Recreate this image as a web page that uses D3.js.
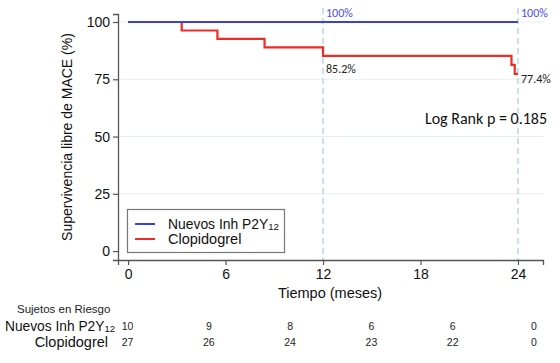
<!DOCTYPE html>
<html lang="es">
<head>
<meta charset="UTF-8" />
<title>Kaplan-Meier MACE</title>
<style>
  body { margin: 0; background: #fff; }
  svg { display: block; }
</style>
</head>
<body>
<div class="chart"></div>
<script src="https://d3js.org/d3.v7.min.js"></script>
<script>
// datos del gráfico
const xTicks = [0, 6, 12, 18, 24];
const yTicks = [0, 25, 50, 75, 100];
const seriesNames = ['Nuevos Inh P2Y', 'Clopidogrel'];
// curvas escalonadas: [tiempo, supervivencia]
const nuevosSteps = [[0, 100], [24, 100]];
const clopiSteps = [[0, 100], [3.3, 96.3], [5.5, 92.6], [8.4, 88.9], [12, 85.2], [23.6, 81.3], [23.8, 77.4], [24, 77.4]];
const riskNuevos = [10, 9, 8, 6, 6, 0];
const riskClopi = [27, 26, 24, 23, 22, 0];
const riskTimes = [0, 1, 2, 3, 4, 5];
const markTimes = [12, 24];
const nuevosLabels = ['100%', '100%'];
const clopiLabels = ['85.2%', '77.4%'];
const clopiLabelValues = [85.2, 77.4];
const pText = 'Log Rank p = 0.185';

const W = 560, H = 363;
const svg = d3.select('.chart').append('svg')
  .attr('width', W).attr('height', H);

const x = d3.scaleLinear().domain([-0.62, 25.54]).range([118, 543]);
const y = d3.scaleLinear().domain([-3.9, 103.5]).range([260, 14]);

// líneas de cuadrícula
svg.append('g').selectAll('line')
  .data(yTicks.filter(d => d > 0))
  .join('line')
  .attr('x1', 119).attr('x2', 543)
  .attr('y1', d => y(d)).attr('y2', d => y(d))
  .attr('stroke', '#e6edf2').attr('stroke-width', 1);

// líneas discontinuas en 12 y 24
svg.append('g').selectAll('line')
  .data(markTimes)
  .join('line')
  .attr('x1', d => x(d)).attr('x2', d => x(d))
  .attr('y1', 8).attr('y2', 260)
  .attr('stroke', '#a9d2e3').attr('stroke-width', 1.3)
  .attr('stroke-dasharray', '6,4');

// ejes
const font = 'Liberation Sans, Arial, sans-serif';
const yAxis = svg.append('g')
  .attr('transform', 'translate(118,0)')
  .call(d3.axisLeft(y).tickValues(yTicks).tickSize(5).tickPadding(3));
const xAxis = svg.append('g')
  .attr('transform', 'translate(0,260)')
  .call(d3.axisBottom(x).tickValues(xTicks).tickSize(5).tickPadding(4));
[yAxis, xAxis].forEach(g => {
  g.select('.domain').attr('stroke', '#555').attr('stroke-width', 1.3);
  g.selectAll('.tick line').attr('stroke', '#555').attr('stroke-width', 1.2);
  g.selectAll('.tick text').attr('fill', '#111')
    .style('font-family', font).style('font-size', '14px');
});

// curvas
const line = d3.line().x(d => x(d[0])).y(d => y(d[1])).curve(d3.curveStepAfter);
svg.append('path').datum(clopiSteps)
  .attr('d', line).attr('fill', 'none')
  .attr('stroke', '#ee2b25').attr('stroke-width', 2.2);
svg.append('path').datum(nuevosSteps)
  .attr('d', line).attr('fill', 'none')
  .attr('stroke', '#3b3fe0').attr('stroke-width', 2.2);

// etiquetas de porcentaje
const calibri = 'Carlito, "Open Sans", sans-serif';
svg.append('g').selectAll('text')
  .data(markTimes)
  .join('text')
  .attr('x', d => x(d) + 3).attr('y', 17)
  .attr('fill', '#4d4de6')
  .style('font-family', calibri).style('font-size', '12px')
  .text((d, i) => nuevosLabels[i]);
svg.append('g').selectAll('text')
  .data(markTimes)
  .join('text')
  .attr('x', d => x(d) + 3)
  .attr('y', (d, i) => y(clopiLabelValues[i]) + (i === 0 ? 17 : 9))
  .attr('fill', '#222')
  .style('font-family', calibri).style('font-size', '12px')
  .text((d, i) => clopiLabels[i]);

svg.append('text')
  .attr('x', 547).attr('y', 124)
  .attr('text-anchor', 'end')
  .attr('fill', '#111')
  .style('font-family', calibri).style('font-size', '16px')
  .text(pText);

// títulos de ejes
svg.append('text')
  .attr('transform', `translate(72,${(14 + 260) / 2}) rotate(-90)`)
  .attr('text-anchor', 'middle')
  .attr('fill', '#111')
  .style('font-family', font).style('font-size', '14px')
  .text('Supervivencia libre de MACE (%)');
svg.append('text')
  .attr('x', 330).attr('y', 298)
  .attr('text-anchor', 'middle')
  .attr('fill', '#111')
  .style('font-family', font).style('font-size', '14.5px')
  .text('Tiempo (meses)');

// texto con subíndice, ajustado al ancho
function subLabel(parent, x0, yb, targetW) {
  const t = parent.append('text')
    .attr('x', x0).attr('y', yb)
    .attr('fill', '#111')
    .style('font-family', font).style('font-size', '14.5px')
    .text(seriesNames[0]);
  t.append('tspan').attr('dy', 1).style('font-size', '10px').text('12');
  const w = t.node().getComputedTextLength();
  if (w > 0) {
    const s = targetW / w;
    t.style('font-size', (14.5 * s) + 'px');
    t.select('tspan').style('font-size', (10 * s) + 'px');
  }
  return t;
}

// leyenda
const leg = svg.append('g');
leg.append('rect')
  .attr('x', 127.5).attr('y', 209.5).attr('width', 157).attr('height', 43)
  .attr('fill', '#fff').attr('stroke', '#777').attr('stroke-width', 1.2);
const legColors = ['#3b3fe0', '#ee2b25'];
seriesNames.forEach((name, i) => {
  const ly = 224 + i * 15;
  leg.append('line')
    .attr('x1', 135).attr('x2', 155).attr('y1', ly).attr('y2', ly)
    .attr('stroke', legColors[i]).attr('stroke-width', 2);
  if (i === 0) {
    subLabel(leg, 168, ly + 5, 111);
  } else {
    leg.append('text')
      .attr('x', 168).attr('y', ly + 5)
      .attr('fill', '#111')
      .style('font-family', font).style('font-size', '14.5px')
      .text(name);
  }
});

// tabla de sujetos en riesgo
const rx = d3.scalePoint().domain(riskTimes).range([127.5, 534]);
svg.append('text')
  .attr('x', 17).attr('y', 313)
  .attr('fill', '#222')
  .style('font-family', font).style('font-size', '11.5px')
  .text('Sujetos en Riesgo');
subLabel(svg, 5, 331, 110);
svg.append('text')
  .attr('x', 108).attr('y', 347).attr('text-anchor', 'end')
  .attr('fill', '#111')
  .style('font-family', font).style('font-size', '14.5px')
  .text(seriesNames[1]);

[riskNuevos, riskClopi].forEach((row, r) => {
  svg.append('g').selectAll('text')
    .data(row)
    .join('text')
    .attr('x', (d, i) => rx(riskTimes[i]))
    .attr('y', 330 + r * 16)
    .attr('text-anchor', 'middle')
    .attr('fill', '#222')
    .style('font-family', font).style('font-size', '10.5px')
    .text(d => d);
});
</script>
</body>
</html>
